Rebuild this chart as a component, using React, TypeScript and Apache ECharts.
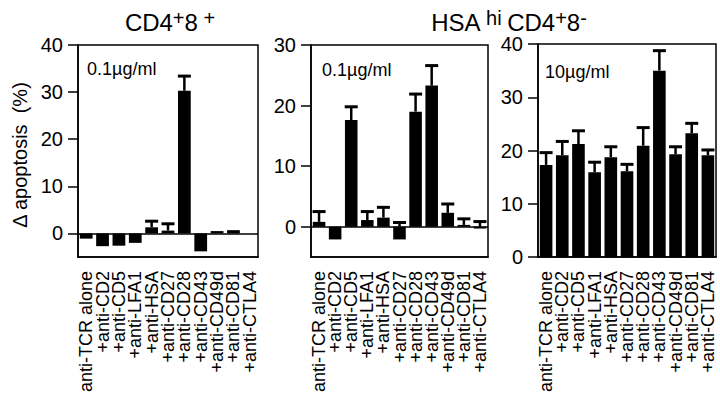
import React, { useEffect, useRef } from "react";
import * as echarts from "echarts";

const categories = [
  "anti-TCR alone",
  "+anti-CD2",
  "+anti-CD5",
  "+anti-LFA1",
  "+anti-HSA",
  "+anti-CD27",
  "+anti-CD28",
  "+anti-CD43",
  "+anti-CD49d",
  "+anti-CD81",
  "+anti-CTLA4",
];

// Panel 1: CD4+8+, 0.1 µg/ml
const dp1Values = [-1.1, -2.7, -2.6, -2.0, 1.3, 0.6, 30.3, -3.8, 0.5, 0.7, 0];
const dp1Caps: (number | null)[] = [null, null, null, null, 2.6, 2.05, 33.4, null, null, null, null];

// Panel 2: HSAhi CD4+8-, 0.1 µg/ml
const sp1Values = [0.8, -2.1, 17.6, 1.1, 1.5, -2.1, 19.0, 23.3, 2.3, 0.3, -0.3];
const sp1Caps: (number | null)[] = [2.5, null, 19.8, 2.5, 3.2, 0.7, 21.9, 26.6, 3.75, 1.3, 0.85];

// Panel 3: HSAhi CD4+8-, 10 µg/ml
const sp10Values = [17.3, 19.1, 21.2, 15.9, 18.75, 16.1, 20.9, 35.0, 19.3, 23.25, 19.1];
const sp10Caps: (number | null)[] = [19.6, 21.7, 23.7, 17.8, 20.7, 17.4, 24.3, 38.75, 20.7, 25.1, 20.1];

const panel1Ticks = [0, 10, 20, 30, 40];
const panel2Ticks = [0, 10, 20, 30];

const FONT = "Liberation Sans, Arial, Helvetica, sans-serif";

function errData(values: number[], caps: (number | null)[]) {
  const out: number[][] = [];
  caps.forEach((c, i) => {
    if (c !== null) out.push([i, Math.max(values[i], 0), c]);
  });
  return out;
}

const renderErr = (params: any, api: any) => {
  const i = api.value(0);
  const base = api.value(1);
  const cap = api.value(2);
  const p0 = api.coord([i, base]);
  const p1 = api.coord([i, cap]);
  const hw = 6.5;
  return {
    type: "group",
    children: [
      {
        type: "line",
        shape: { x1: p0[0], y1: p0[1], x2: p1[0], y2: p1[1] },
        style: { stroke: "#000", lineWidth: 2.5 },
      },
      {
        type: "line",
        shape: { x1: p1[0] - hw, y1: p1[1], x2: p1[0] + hw, y2: p1[1] },
        style: { stroke: "#000", lineWidth: 3 },
      },
    ],
  };
};

export default function App() {
  const ref = useRef<HTMLDivElement>(null);
  useEffect(() => {
    if (!ref.current) return;
    const chart = echarts.init(ref.current, null, { renderer: "svg" });

    const grids = [
      { left: 78, top: 45, width: 180, height: 212 },
      { left: 311, top: 45, width: 177, height: 212 },
      { left: 538, top: 44, width: 178, height: 213 },
    ].map((g) => ({
      ...g,
      show: true,
      borderColor: "#000",
      borderWidth: 1.5,
      backgroundColor: "transparent",
      containLabel: false,
    }));

    const xAxes = [0, 1, 2].map((k) => ({
      type: "category",
      gridIndex: k,
      data: categories,
      position: "bottom",
      axisLine: { onZero: false, lineStyle: { color: "#000", width: 1.5 } },
      axisTick: { alignWithLabel: true, length: 9, lineStyle: { color: "#000", width: 1.5 } },
      axisLabel: {
        rotate: 90,
        interval: 0,
        margin: 14,
        color: "#000",
        fontSize: 18,
        fontFamily: FONT,
      },
      splitLine: { show: false },
    }));

    const yBase = {
      type: "value",
      axisLine: { show: true, lineStyle: { color: "#000", width: 1.5 } },
      axisTick: { show: true, length: 10, lineStyle: { color: "#000", width: 1.5 } },
      axisLabel: { color: "#000", fontSize: 20, fontFamily: FONT, margin: 15 },
      splitLine: { show: false },
    };

    const yAxes = [
      {
        ...yBase,
        gridIndex: 0,
        min: -5,
        max: 40,
        axisTick: { ...yBase.axisTick, customValues: panel1Ticks },
        axisLabel: { ...yBase.axisLabel, customValues: panel1Ticks },
      },
      {
        ...yBase,
        gridIndex: 1,
        min: -5,
        max: 30,
        axisTick: { ...yBase.axisTick, customValues: panel2Ticks },
        axisLabel: { ...yBase.axisLabel, customValues: panel2Ticks },
      },
      { ...yBase, gridIndex: 2, min: 0, max: 40, interval: 10 },
    ];

    const zeroLine = {
      symbol: "none",
      silent: true,
      label: { show: false },
      lineStyle: { color: "#000", width: 1.5, type: "solid" },
      data: [{ yAxis: 0 }],
    };

    const sets = [
      [dp1Values, dp1Caps],
      [sp1Values, sp1Caps],
      [sp10Values, sp10Caps],
    ] as [number[], (number | null)[]][];

    const series: any[] = [];
    sets.forEach(([vals, caps], k) => {
      series.push({
        type: "bar",
        xAxisIndex: k,
        yAxisIndex: k,
        data: vals,
        barWidth: "78%",
        itemStyle: { color: "#000" },
        markLine: k < 2 ? zeroLine : undefined,
      });
      series.push({
        type: "custom",
        xAxisIndex: k,
        yAxisIndex: k,
        data: errData(vals, caps),
        encode: { x: 0, y: [1, 2] },
        renderItem: renderErr,
        z: 5,
      });
    });

    const supRich = {
      a: { fontSize: 24, fontFamily: FONT, fill: "#000", color: "#000", lineHeight: 28 },
      s: {
        fontSize: 20,
        fontFamily: FONT,
        fill: "#000",
        color: "#000",
        lineHeight: 18,
        verticalAlign: "top",
      },
    };

    chart.setOption({
      animation: false,
      textStyle: { fontFamily: FONT },
      grid: grids,
      xAxis: xAxes,
      yAxis: yAxes,
      series,
      graphic: [
        {
          type: "text",
          x: 170,
          y: 22,
          style: {
            text: "{a|CD4}{s|+}{a|8}{s| +}",
            rich: supRich,
            align: "center",
            verticalAlign: "middle",
          },
        },
        {
          type: "text",
          x: 509,
          y: 22,
          style: {
            text: "{a|HSA}{s| hi }{a|CD4}{s|+}{a|8}{s|-}",
            rich: supRich,
            align: "center",
            verticalAlign: "middle",
          },
        },
        {
          type: "text",
          x: 20,
          y: 155,
          rotation: Math.PI / 2,
          style: {
            text: "Δ apoptosis  (%)",
            fontSize: 20,
            fontFamily: FONT,
            fill: "#000",
            align: "center",
            verticalAlign: "middle",
          },
        },
        {
          type: "text",
          x: 87,
          y: 69,
          style: { text: "0.1µg/ml", fontSize: 18, fontFamily: FONT, fill: "#000", verticalAlign: "middle" },
        },
        {
          type: "text",
          x: 322,
          y: 70,
          style: { text: "0.1µg/ml", fontSize: 18, fontFamily: FONT, fill: "#000", verticalAlign: "middle" },
        },
        {
          type: "text",
          x: 545,
          y: 72,
          style: { text: "10µg/ml", fontSize: 18, fontFamily: FONT, fill: "#000", verticalAlign: "middle" },
        },
      ],
    });

    return () => chart.dispose();
  }, []);

  return (
    <div
      ref={ref}
      style={{ position: "absolute", left: 0, top: 0, width: 720, height: 400 }}
    />
  );
}
